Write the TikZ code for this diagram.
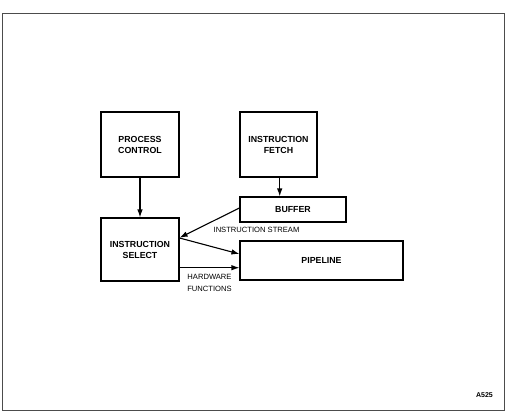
\documentclass[tikz,border=0pt]{standalone}
\usepackage{fontspec}
\setmainfont{Liberation Sans}
\usetikzlibrary{arrows.meta}
\begin{document}
\begin{tikzpicture}[x=1pt,y=-1pt,
  blk/.style={draw=black,line width=1.1pt,inner sep=0pt,align=center,
    font=\fontsize{8.8}{11}\selectfont\bfseries},
  lbl/.style={inner sep=0pt,align=center,font=\fontsize{7.6}{11.3}\selectfont},
  conn/.style={line width=1.1pt,-{Latex[length=8pt,width=5.5pt]}}]
\useasboundingbox (0,0) rectangle (505,412);
\draw[line width=1pt,draw=black!70] (2,14) rectangle (504,410);
\node[blk,minimum width=78pt,minimum height=65pt] (pc) at (140,144.5) {PROCESS\\CONTROL};
\node[blk,minimum width=77pt,minimum height=65pt] (if) at (278.5,144.5) {INSTRUCTION\\FETCH};
\node[blk,minimum width=106pt,minimum height=25pt] (buf) at (293,209.5) {BUFFER};
\node[blk,minimum width=78pt,minimum height=63pt] (is) at (140,249.5) {INSTRUCTION\\SELECT};
\node[blk,minimum width=163pt,minimum height=39pt] (pipe) at (321.5,260.5) {PIPELINE};
\draw[conn] (pc.south) -- (is.north);
\draw[conn] (if.south -| 279.7,0) -- (buf.north -| 279.7,0);
\draw[conn] (buf.west |- 0,208) -- (is.east |- 0,237.7);
\draw[conn] (is.east |- 0,238) -- (pipe.west |- 0,254);
\draw[conn] (is.east |- 0,267.7) -- (pipe.west |- 0,267.7);
\node[lbl] (ist) at (256.5,230) {INSTRUCTION STREAM};
\node[lbl] (hw) at (209.5,283) {HARDWARE\\FUNCTIONS};
\node[lbl,font=\fontsize{7}{8}\selectfont\bfseries] (id) at (484.5,395) {A525};
\end{tikzpicture}
\end{document}
